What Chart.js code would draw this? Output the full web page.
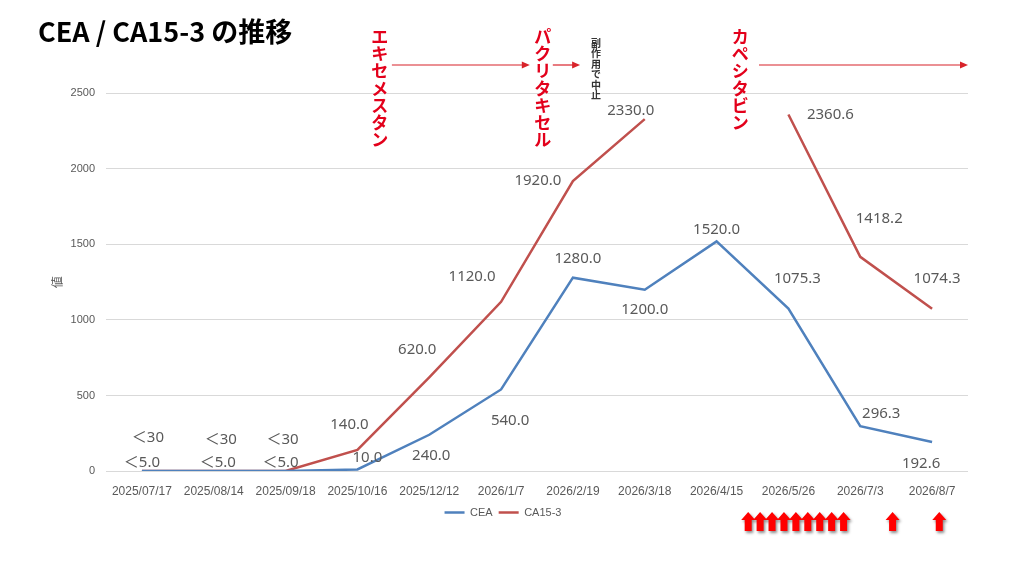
<!DOCTYPE html>
<html><head><meta charset="utf-8">
<script src="https://cdn.jsdelivr.net/npm/chart.js@4.4.1/dist/chart.umd.min.js"></script>
<style>html,body{margin:0;padding:0;background:#fff;} #c{display:block;}</style>
</head><body>
<canvas id="c" width="1024" height="576"></canvas>
<script>
// ---- data ----
const categories = ['2025/07/17','2025/08/14','2025/09/18','2025/10/16','2025/12/12','2026/1/7','2026/2/19','2026/3/18','2026/4/15','2026/5/26','2026/7/3','2026/8/7'];
const ceaValues   = [0, 0, 0, 10, 240, 540, 1280, 1200, 1520, 1075.3, 296.3, 192.6];
const ca153Values = [0, 0, 0, 140, 620, 1120, 1920, 2330, null, 2360.6, 1418.2, 1074.3];
const ceaLabelText   = ['＜5.0', '＜5.0', '＜5.0'];
const ca153LabelText = ['＜30', '＜30', '＜30'];
const yMin = 0, yMax = 2500, yStep = 500;

// ---- label placement (pixel offsets from each point) ----
const ceaLabelOffset   = [[0,-8],[4,-8],[-5,-8],[10,-12],[2,21],[9,31],[5,-19],[0,20],[0,-12],[9,-30],[21,-13],[-11,22]];
const ca153LabelOffset = [[6,-33],[7,-31],[-3,-31],[-8,-25],[-12,-28],[-29,-25],[-35,0],[-14,-8],null,[42,0],[19,-38],[5,-30]];

// ---- annotations (positions as fractional category index) ----
const therapies = [
  {name:'エキセメスタン', at:3.31},
  {name:'パクリタキセル', at:5.58},
  {name:'カペシタビン',   at:8.33}
];
const therapyArrows = [[3.48, 5.40], [5.72, 6.10], [8.59, 11.50]];
const stopNote = {text:'副作用で中止', at:6.32};
const doseArrowsAt = [8.44, 8.606, 8.772, 8.938, 9.104, 9.27, 9.436, 9.602, 9.768, 10.45, 11.1];

const GRAY = '#595959';
const RED = '#e3001b';

const labelPlugin = {
  id: 'pointLabels',
  afterDatasetsDraw(chart) {
    const ctx = chart.ctx;
    const texts = [ceaLabelText, ca153LabelText];
    const offs = [ceaLabelOffset, ca153LabelOffset];
    ctx.save();
    ctx.font = '15px "Noto Sans", "Noto Sans CJK JP", sans-serif';
    ctx.fillStyle = GRAY;
    ctx.textAlign = 'center';
    ctx.textBaseline = 'middle';
    chart.data.datasets.forEach((ds, di) => {
      const meta = chart.getDatasetMeta(di);
      ds.data.forEach((v, i) => {
        if (v === null) return;
        const p = meta.data[i];
        const o = offs[di][i] || [0, -12];
        const t = texts[di][i] || v.toFixed(1);
        ctx.fillText(t, p.x + o[0], p.y + o[1]);
      });
    });
    ctx.restore();
  }
};

const annotationPlugin = {
  id: 'therapyNotes',
  afterDraw(chart) {
    const ctx = chart.ctx;
    const xs = chart.scales.x;
    const px = i => xs.getPixelForValue(i);
    ctx.save();
    ctx.fillStyle = RED;
    ctx.font = 'bold 17px "Noto Sans CJK JP", sans-serif';
    ctx.textAlign = 'center';
    ctx.textBaseline = 'top';
    therapies.forEach(t => {
      [...t.name].forEach((ch, k) => ctx.fillText(ch, px(t.at), 28 + k * 17.2));
    });
    ctx.fillStyle = '#333333';
    ctx.font = 'bold 10px "Noto Sans CJK JP", sans-serif';
    [...stopNote.text].forEach((ch, k) => ctx.fillText(ch, px(stopNote.at), 38 + k * 10.5));
    ctx.strokeStyle = '#d8232a';
    ctx.fillStyle = '#d8232a';
    ctx.lineWidth = 1.2;
    therapyArrows.forEach(([a, b]) => {
      const x1 = px(a), x2 = px(b), y = 65;
      ctx.beginPath(); ctx.moveTo(x1, y); ctx.lineTo(x2 - 6, y); ctx.stroke();
      ctx.beginPath(); ctx.moveTo(x2, y); ctx.lineTo(x2 - 8, y - 3.5); ctx.lineTo(x2 - 8, y + 3.5); ctx.closePath(); ctx.fill();
    });
    ctx.fillStyle = '#ff0000';
    ctx.shadowColor = 'rgba(0,0,0,0.45)';
    ctx.shadowBlur = 3;
    ctx.shadowOffsetX = 1.5;
    ctx.shadowOffsetY = 2;
    doseArrowsAt.forEach(i => {
      const cx = px(i), top = 512, w = 14, sw = 7, hh = 8, h = 19;
      ctx.beginPath();
      ctx.moveTo(cx, top);
      ctx.lineTo(cx + w / 2, top + hh);
      ctx.lineTo(cx + sw / 2, top + hh);
      ctx.lineTo(cx + sw / 2, top + h);
      ctx.lineTo(cx - sw / 2, top + h);
      ctx.lineTo(cx - sw / 2, top + hh);
      ctx.lineTo(cx - w / 2, top + hh);
      ctx.closePath();
      ctx.fill();
    });
    ctx.restore();
  }
};

new Chart(document.getElementById('c'), {
  type: 'line',
  data: {
    labels: categories,
    datasets: [
      {label:'CEA', data: ceaValues, borderColor:'#4f81bd', backgroundColor:'#4f81bd', borderWidth:2.5, pointRadius:0, tension:0},
      {label:'CA15-3', data: ca153Values, borderColor:'#c0504d', backgroundColor:'#c0504d', borderWidth:2.5, pointRadius:0, tension:0}
    ]
  },
  options: {
    responsive: false,
    animation: false,
    devicePixelRatio: 1,
    layout: {padding: {left: 38, right: 56, top: 0, bottom: 48}},
    scales: {
      x: {
        offset: true,
        grid: {display: false, drawTicks: false},
        border: {display: false},
        ticks: {color: GRAY, font: {family: '"Liberation Sans", sans-serif', size: 12}, padding: 13, maxRotation: 0, autoSkip: false},
        afterFit(s) { s.height = 30; }
      },
      y: {
        min: yMin, max: yMax,
        grid: {color: '#d9d9d9', drawTicks: false, lineWidth: 1},
        border: {display: false},
        ticks: {stepSize: yStep, color: GRAY, font: {family: '"Liberation Sans", sans-serif', size: 11}, padding: 11, callback: v => String(v)},
        title: {display: true, text: '値', color: GRAY, font: {family: '"Noto Sans CJK JP", sans-serif', size: 12}, padding: {top: 12, bottom: 4}},
        afterFit(s) { s.width = 68; }
      }
    },
    plugins: {
      title: {
        display: true, text: 'CEA / CA15-3 の推移', align: 'start', color: '#000',
        font: {family: '"Noto Sans CJK JP", sans-serif', size: 27, weight: 'bold'},
        padding: {top: 16, bottom: 45}
      },
      legend: {
        position: 'bottom',
        labels: {color: GRAY, font: {family: '"Liberation Sans", sans-serif', size: 11}, usePointStyle: true, pointStyle: 'line', pointStyleWidth: 20, boxHeight: 3, padding: 6}
      },
      tooltip: {enabled: false}
    }
  },
  plugins: [labelPlugin, annotationPlugin]
});
</script>
</body></html>
